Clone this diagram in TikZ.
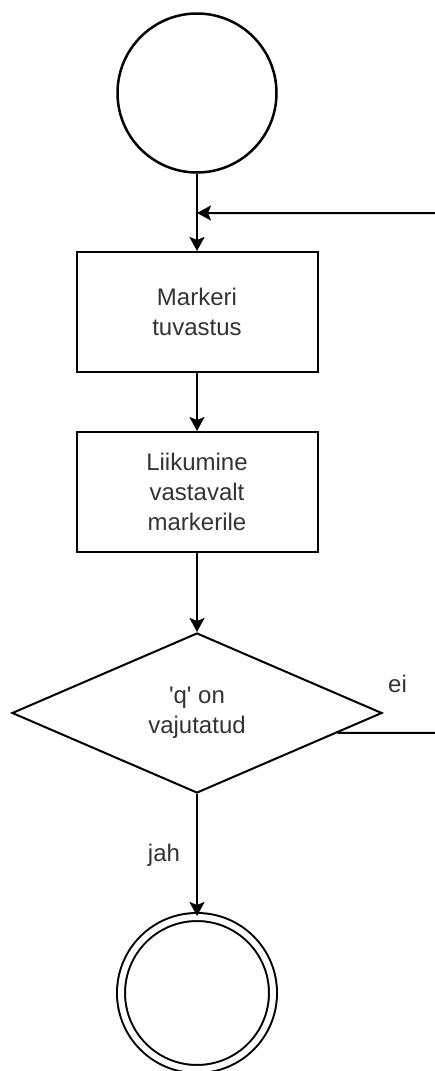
\documentclass[tikz,border=0pt]{standalone}
\usepackage{fontspec}
\setmainfont{Liberation Sans}
\usetikzlibrary{shapes.geometric,arrows.meta}
\definecolor{txt}{HTML}{333333}
\tikzset{
  every node/.style={font=\fontsize{24}{30}\selectfont, text=txt, align=center},
  procbox/.style={draw, line width=2pt, minimum width=241, minimum height=120, inner sep=0},
  decision/.style={draw, diamond, line width=2pt, minimum width=370, minimum height=160, inner sep=0},
  startnode/.style={draw, circle, line width=2.5pt, minimum size=159, inner sep=0},
  endnode/.style={draw, circle, line width=2pt, double, double distance=6pt, minimum size=152, inner sep=0},
  flow/.style={line width=2pt, -{Stealth[length=14pt,width=15pt,inset=3pt]}},
  lbl/.style={inner sep=0}
}
\begin{document}
\begin{tikzpicture}[x=1pt,y=-1pt]
\useasboundingbox (0,0) rectangle (435,1071);
\clip (0,0) rectangle (435,1071);
\node[startnode] (start) at (197,93) {};
\node[procbox] (r1) at (197,312) {Markeri\\tuvastus};
\node[procbox] (r2) at (197,492) {Liikumine\\vastavalt\\markerile};
\node[decision] (dia) at (197,713) {\textquotesingle q\textquotesingle\ on\\vajutatud};
\node[endnode] (stop) at (197,993) {};
\coordinate (join) at (197,213);
\coordinate (edge) at (445,733);
\draw[line width=2pt] (start.south) -- (join);
\draw[flow] (join) -- (r1.north);
\draw[flow] (r1) -- (r2);
\draw[flow] (r2) -- (dia);
\draw[flow] (dia.south) -- node[lbl, pos=0.5, left=16pt] {jah} (stop.north);
\draw[flow] (dia.-8.2) -- (edge) |- (join);
\node[lbl, anchor=base west] (ei) at (388,692) {ei};
\end{tikzpicture}
\end{document}
